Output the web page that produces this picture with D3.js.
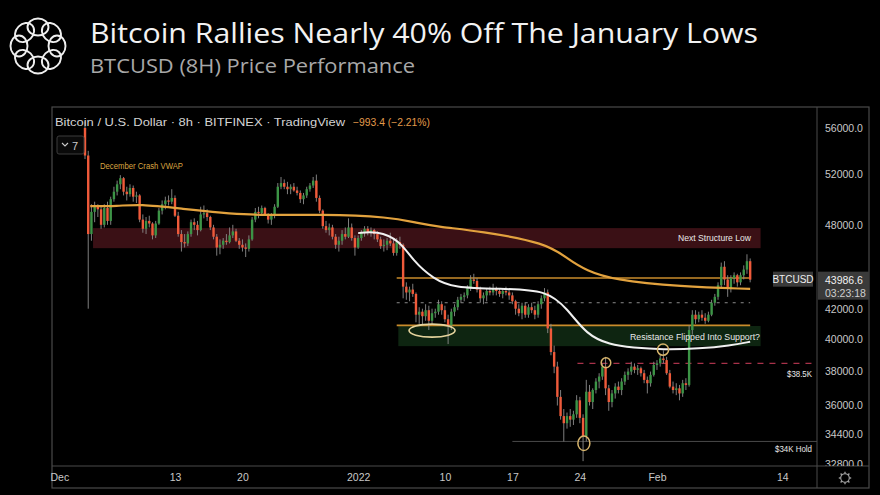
<!DOCTYPE html>
<html><head><meta charset="utf-8">
<script src="https://cdn.jsdelivr.net/npm/d3@7"></script>
<style>body{margin:0;background:#000;} svg{display:block}</style>
</head><body><svg id="c" width="880" height="495"></svg>
<script>
// ---------------- DATA ----------------
const candleStart = "2021-12-03T16:00:00Z";   // first 8h candle
const candleHours = 8;
const firstOpen = 56000;
const closes = [
53600,
47300,49000,49400, 49200,48000,49300, 48300,50000,50600, 51200,51700,50600,
50400,50900,50200, 50300,48400,47700, 48300,48100,47200, 48100,49100,49600,
49900,49800,50100, 48700,47300,46700, 46600,47300,48200, 48000,47600,48800,
48900,48600,47800, 47100,46300,46500, 46800,46700,47200, 47500,46800,46500,
46300,46200,46900, 48400,49000,48900, 49300,48800,48400, 48700,49400,51000,
51300,51000,50800, 51000,50700,50500, 50000,50300,50800, 51100,51500,50100,
49100,47900,47600, 47800,47100,46500, 46800,47300,47100, 47800,47000,46300,
47000,47400,47700, 47400,47600,47300, 46900,46400,46500, 46800,46600,45900,
46700,46500,43500, 43100,43300,43000, 41600,41800,41500, 41900,41200,41700,
41800,42300,41900, 41300,40900,41800, 42100,42600,42800, 42900,43400,44000,
43900,43300,42700, 42900,43200,43100, 43400,43200,43000, 43200,43100,42900,
42500,42000,41700, 42200,41600,42100, 41900,41600,42300, 42700,43100,40700,
39200,38300,36500, 35400,35000,35400, 35200,35500,36300, 35300,34300,36800,
36200,36900,37400, 37700,38300,37000, 36200,36700,37100, 36900,37400,37800,
38000,38300,38100, 38200,37900,37500, 37300,37800,38400,
38500,38800,38700, 37900,37100,36900, 37000,36700,37300, 37200,40600,41600,
41300,41600,41400, 41200,41600,42400, 42800,43600,44900, 44000,43400,44100,
44300,43800,44300, 44700,45300,43986.6
];
const highs = [
56600,
54000,49600,49800, 49600,49400,49600, 49800,50200,51000, 51500,51950,51800,
51000,51200,51100, 50600,50400,48800, 48600,48700,48200, 48300,49300,49900,
50200,50300,50800, 50300,49000,47600, 47300,47500,48400, 48500,48300,49400,
49500,49200,48700, 48000,47300,46900, 47000,47300,47800, 48000,47700,47000,
46900,46600,47200, 48600,49300,49400, 49500,49400,48900, 48900,49600,51300,
51800,51600,51400, 51200,51300,51000, 50700,50500,51000, 51300,51800,52000,
50300,49200,48300, 48100,48000,47300, 47100,47600,47800, 48500,48100,47200,
47200,47600,47900, 47900,47800,47700, 47500,47100,46900, 47000,47400,46900,
47000,47100,46600, 43800,43500,43700, 43100,42100,42000, 42300,42200,42000,
42000,42600,42500, 42200,41600,42000, 42300,42800,43000, 43100,43600,44300,
44400,44100,43500, 43100,43400,43500, 43700,43500,43400, 43400,43500,43400,
43100,42600,42300, 42400,42400,42300, 42400,42200,42500, 42900,43400,43300,
41000,39600,38600, 36900,35800,35600, 35800,35700,36600, 36500,35500,37500,
37200,37000,37600, 37900,38500,38900, 37200,36900,37300, 37400,37600,38000,
38200,38600,38500, 38400,38300,38100, 37700,38000,38600,
38700,39000,39300, 38900,38100,37400, 37300,37200,37500, 37600,40900,41900,
41900,41800,41900, 41700,41800,42600, 43000,43800,45200, 45300,44300,44300,
44500,44400,44500, 45000,45800,45500
];
const lows = [
53300,
42000,46800,48200, 48600,47700,47800, 48000,48000,49800, 50300,50800,50300,
49900,50200,49800, 49700,48200,47400, 47300,47800,46900, 47000,48000,48800,
49200,49500,49600, 48600,47100,46000, 46300,46400,47100, 47600,47200,47500,
48500,48300,47600, 46900,45700,45800, 46200,46500,46600, 47000,46700,46200,
46000,45600,46000, 46800,48200,48500, 48700,48700,48100, 48000,48500,49300,
50800,50800,50400, 50400,50600,50300, 49700,49600,50100, 50600,50900,49800,
48900,47700,47400, 47200,46900,46200, 46000,46500,46900, 47000,46800,45700,
46200,46800,47100, 47200,47100,46900, 46700,46200,46000, 46100,46400,45700,
45700,46200,42700, 42600,42500,42800, 41100,41000,40900, 41200,40600,41000,
41400,41600,41600, 41100,39700,40600, 41500,41900,42400, 42500,42700,43200,
43700,43100,42400, 42300,42500,42900, 42900,42900,42800, 42700,42900,42600,
42300,41600,41500, 41300,41400,41400, 41700,41300,41400, 42000,42500,40400,
39000,37900,36000, 35200,34000,34700, 34800,34900,35300, 35000,32950,34000,
36000,35800,36700, 37000,37500,36600, 35700,35900,36400, 36700,36600,37200,
37500,37800,37900, 37800,37700,37300, 36700,37100,37700,
38100,38300,38500, 37800,37000,36700, 36600,36300,36500, 36900,37100,40300,
41000,41100,41200, 41000,41100,41500, 42200,42600,43400, 43600,42800,43100,
43700,43500,43600, 44000,44400,43800
];

// December crash anchored VWAP (orange) and January anchored VWAP (white)
const vwapDecDates = ["2021-12-04T05:00","2021-12-07T00:00","2021-12-09T10:00","2021-12-13T05:00","2021-12-20T19:00","2021-12-28T10:00","2022-01-04T07:00","2022-01-07T02:00","2022-01-09T12:00","2022-01-13T14:00","2022-01-20T14:00","2022-01-22T17:00","2022-01-24T17:00","2022-01-27T10:00","2022-02-03T10:00","2022-02-10T16:00"];
const vwapDecValues = [49450,49450,49610,49290,48670,48830,48600,48140,47830,47530,46630,45470,44610,43980,43490,43350];
const vwapJanDates = ["2022-01-01T00:00","2022-01-02T22:00","2022-01-05T07:00","2022-01-06T17:00","2022-01-08T19:00","2022-01-10T22:00","2022-01-15T17:00","2022-01-20T14:00","2022-01-22T17:00","2022-01-24T17:00","2022-01-27T02:00","2022-01-29T12:00","2022-02-01T14:00","2022-02-05T10:00","2022-02-08T14:00","2022-02-10T16:00"];
const vwapJanValues = [47370,47530,46860,45320,44050,43420,43350,43280,41990,40290,39660,39470,39350,39410,39600,39850];

// zones & levels
const zoneStructure = {from:"2021-12-04T12:00", to:"2022-02-11T18:00", lo:46250, hi:47750, label:"Next Structure Low"};
const zoneSupport   = {from:"2022-01-05T04:00", to:"2022-02-11T18:00", lo:39570, hi:40860, label:"Resistance Flipped Into Support?"};
const orangeLevels = [44100, 40900];
const orangeLevelSpan = ["2022-01-05T00:00","2022-02-10T16:00"];
const grayDashLevel = 42400;
const grayDashSpan = ["2022-01-05T00:00","2022-02-10T16:00"];
const redDashLevel = 38500;
const redDashSpan = ["2022-01-23T18:00","2022-02-17T20:00"];
const holdLevel = 34000;
const holdSpan = ["2022-01-17T00:00","2022-02-17T20:00"];
const levelLabels = [{text:"$38.5K", price:37850}, {text:"$34K Hold", price:33600}];

// annotation marks
const markDates  = ["2022-01-24T10:00","2022-01-26T17:00","2022-02-01T15:00"];
const markPrices = [33900, 38540, 39350];
const markRx = [6, 4.8, 5.6], markRy = [7.2, 5, 5.6];
const ovalDate = "2022-01-08T16:00", ovalPrice = 40560;

// axes
const priceTicks = [56000,52000,48000,42000,40000,38000,36000,34400,32800];
const timeTickDates = ["2021-12-01","2021-12-13","2021-12-20","2022-01-01","2022-01-10","2022-01-17","2022-01-24","2022-02-01","2022-02-14"];
const timeTickLabels = ["Dec","13","20","2022","10","17","24","Feb","14"];
const lastPrice = 43986.6, lastLabel = "BTCUSD", countdown = "03:23:18";

// ---------------- DRAW ----------------
const svg = d3.select("#c");
const P = {left:52, right:817, top:107, bottom:466, outerR:869, outerB:488};
const F = "'Liberation Sans', Arial, sans-serif";
const pd = s => new Date(s.length<=10 ? s+"T00:00:00Z" : (s.endsWith("Z")?s:s+"Z"));

const x = d3.scaleUtc().domain([pd("2021-12-01"), pd("2022-02-14")]).range([59.3, 782.3]);
const y = d3.scaleLog().domain([32800, 56000]).range([464, 128]);

svg.append("rect").attr("width",880).attr("height",495).attr("fill","#000");

// logo: ring of overlapping loops
const logo = svg.append("g").attr("transform","translate(38,46)");
d3.range(8).forEach(k=>{
  logo.append("ellipse").attr("cx",0).attr("cy",-19).attr("rx",10.5).attr("ry",8.5)
    .attr("transform",`rotate(${k*45})`).attr("fill","none").attr("stroke","#eee").attr("stroke-width",1.9);
});

// titles
svg.append("text").attr("x",90).attr("y",43).attr("fill","#f2f2f2")
  .attr("font-family","'Open Sans', sans-serif").attr("font-size",28)
  .attr("textLength",668).attr("lengthAdjust","spacingAndGlyphs")
  .text("Bitcoin Rallies Nearly 40% Off The January Lows");
svg.append("text").attr("x",90).attr("y",73).attr("fill","#a8a8a8")
  .attr("font-family","'Open Sans', sans-serif").attr("font-size",20)
  .attr("textLength",325).attr("lengthAdjust","spacingAndGlyphs")
  .text("BTCUSD (8H) Price Performance");

// frame
svg.append("rect").attr("x",P.left).attr("y",P.top).attr("width",P.outerR-P.left).attr("height",P.outerB-P.top)
  .attr("fill","none").attr("stroke","#4a4a4a").attr("stroke-width",1.2);
svg.append("line").attr("x1",P.right).attr("x2",P.right).attr("y1",P.top).attr("y2",P.outerB).attr("stroke","#4a4a4a");
svg.append("line").attr("x1",P.left).attr("x2",P.outerR).attr("y1",P.bottom).attr("y2",P.bottom).attr("stroke","#4a4a4a");

svg.append("clipPath").attr("id","plot").append("rect")
  .attr("x",P.left+1).attr("y",P.top+1).attr("width",P.right-P.left-1).attr("height",P.bottom-P.top-1);
svg.append("clipPath").attr("id","yax").append("rect")
  .attr("x",P.right+1).attr("y",P.top+1).attr("width",P.outerR-P.right-1).attr("height",P.bottom-P.top-1);

const g = svg.append("g").attr("clip-path","url(#plot)");

// zones
[[zoneStructure,"#3a1015"],[zoneSupport,"#0e2511"]].forEach(([z,c])=>{
  g.append("rect").attr("x",x(pd(z.from))).attr("width",x(pd(z.to))-x(pd(z.from)))
   .attr("y",y(z.hi)).attr("height",y(z.lo)-y(z.hi)).attr("fill",c);
});

// levels
orangeLevels.forEach(v=>{
  g.append("line").attr("x1",x(pd(orangeLevelSpan[0]))).attr("x2",x(pd(orangeLevelSpan[1])))
   .attr("y1",y(v)).attr("y2",y(v)).attr("stroke","#c98b2b").attr("stroke-width",1.6);
});
g.append("line").attr("x1",x(pd(grayDashSpan[0]))).attr("x2",x(pd(grayDashSpan[1])))
 .attr("y1",y(grayDashLevel)).attr("y2",y(grayDashLevel)).attr("stroke","#8a8a8a").attr("stroke-width",1).attr("stroke-dasharray","3,5");
g.append("line").attr("x1",x(pd(redDashSpan[0]))).attr("x2",x(pd(redDashSpan[1])))
 .attr("y1",y(redDashLevel)).attr("y2",y(redDashLevel)).attr("stroke","#a8324a").attr("stroke-width",1.2).attr("stroke-dasharray","6,6");
g.append("line").attr("x1",x(pd(holdSpan[0]))).attr("x2",x(pd(holdSpan[1])))
 .attr("y1",y(holdLevel)).attr("y2",y(holdLevel)).attr("stroke","#4a4a4a").attr("stroke-width",1);

// candles
const t0 = pd(candleStart).getTime();
const candles = closes.map((c,i)=>{
  const o = i===0 ? firstOpen : closes[i-1];
  return {t:new Date(t0 + i*candleHours*3600e3), o, c, h:Math.max(highs[i],o,c), l:Math.min(lows[i],o,c)};
});
const RED="#ef5a3a", GREEN="#3c9446";
const cg = g.append("g");
cg.selectAll("line.w").data(candles).join("line")
  .attr("x1",d=>x(d.t)).attr("x2",d=>x(d.t)).attr("y1",d=>y(d.h)).attr("y2",d=>y(d.l))
  .attr("stroke","#8c8c8c").attr("stroke-width",0.9);
cg.selectAll("rect.b").data(candles).join("rect")
  .attr("x",d=>x(d.t)-1.2).attr("width",2.4)
  .attr("y",d=>y(Math.max(d.o,d.c))).attr("height",d=>Math.max(1,Math.abs(y(d.o)-y(d.c))))
  .attr("fill",d=>d.c>=d.o?GREEN:RED);

// VWAP lines
const line = d3.line().x(d=>x(d[0])).y(d=>y(d[1])).curve(d3.curveBasis);
g.append("path").datum(vwapDecDates.map((d,i)=>[pd(d),vwapDecValues[i]]))
  .attr("d",line).attr("fill","none").attr("stroke","#e2a23e").attr("stroke-width",2.2);
g.append("path").datum(vwapJanDates.map((d,i)=>[pd(d),vwapJanValues[i]]))
  .attr("d",line).attr("fill","none").attr("stroke","#f0f0f0").attr("stroke-width",2);

// annotations
g.append("ellipse").attr("cx",x(pd(ovalDate))).attr("cy",y(ovalPrice)).attr("rx",23).attr("ry",6.5)
  .attr("fill","none").attr("stroke","#e4d39c").attr("stroke-width",1.6);
markDates.forEach((d,i)=>{
  g.append("ellipse").attr("cx",x(pd(d))).attr("cy",y(markPrices[i])).attr("rx",markRx[i]).attr("ry",markRy[i])
   .attr("fill","none").attr("stroke","#d8b56c").attr("stroke-width",1.5);
});

// zone labels
const lab = (txt,xx,yy,len,col,anchor)=> svg.append("text").attr("x",xx).attr("y",yy).attr("fill",col||"#e8e8e8")
  .attr("font-family",F).attr("font-size",8.5).attr("text-anchor",anchor||"end").attr("dominant-baseline","central")
  .attr("textLength",len).attr("lengthAdjust","spacingAndGlyphs").text(txt);
lab(zoneStructure.label, 751, y((zoneStructure.hi+zoneStructure.lo)/2), 73);
lab(zoneSupport.label, 760, y((zoneSupport.hi+zoneSupport.lo)/2)+1, 130);
lab(levelLabels[0].text, 812, y(levelLabels[0].price), 25);
lab(levelLabels[1].text, 812, y(levelLabels[1].price), 37);
lab("December Crash VWAP", 100, 166, 83, "#d9a441", "start");

// legend header
svg.append("text").attr("x",55).attr("y",122).attr("fill","#d4d4d4").attr("font-family",F).attr("font-size",11)
  .attr("dominant-baseline","central").attr("textLength",290).attr("lengthAdjust","spacingAndGlyphs")
  .text("Bitcoin / U.S. Dollar · 8h · BITFINEX · TradingView");
svg.append("text").attr("x",353).attr("y",122).attr("fill","#e39b4b").attr("font-family",F).attr("font-size",10)
  .attr("dominant-baseline","central").attr("textLength",77).attr("lengthAdjust","spacingAndGlyphs")
  .text("−993.4 (−2.21%)");
svg.append("rect").attr("x",57).attr("y",136).attr("width",27).attr("height",18).attr("rx",2)
  .attr("fill","#0a0a0a").attr("stroke","#3c3c3c");
svg.append("path").attr("d","M62,143 l3,3 l3,-3").attr("fill","none").attr("stroke","#ccc").attr("stroke-width",1.1);
svg.append("text").attr("x",72).attr("y",145.5).attr("fill","#ccc").attr("font-family",F).attr("font-size",11)
  .attr("dominant-baseline","central").text("7");

// price axis
const yAxis = d3.axisRight(y).tickValues(priceTicks).tickFormat(d3.format(".1f")).tickSize(0).tickPadding(8);
const ya = svg.append("g").attr("clip-path","url(#yax)").append("g").attr("transform",`translate(${P.right},0)`).call(yAxis);
ya.select(".domain").remove();
ya.selectAll("text").attr("fill","#c8c8c8").attr("font-family",F).attr("font-size",10.5);

// time axis
const xAxis = d3.axisBottom(x).tickValues(timeTickDates.map(pd)).tickFormat((d,i)=>timeTickLabels[i]).tickSize(0).tickPadding(8);
const xa = svg.append("g").attr("transform",`translate(0,${P.bottom})`).call(xAxis);
xa.select(".domain").remove();
xa.selectAll("text").attr("fill","#c8c8c8").attr("font-family",F).attr("font-size",10.5);

// last price labels
const ly = y(lastPrice);
svg.append("rect").attr("x",773).attr("y",ly-8).attr("width",40).attr("height",15).attr("fill","#3a3a3a");
svg.append("text").attr("x",793).attr("y",ly).attr("fill","#eee").attr("font-family",F).attr("font-size",10)
  .attr("text-anchor","middle").attr("dominant-baseline","central").text(lastLabel);
svg.append("rect").attr("x",P.right+1).attr("y",ly-8).attr("width",P.outerR-P.right-1).attr("height",28).attr("fill","#3a3a3a");
svg.append("text").attr("x",825).attr("y",ly).attr("fill","#f0f0f0").attr("font-family",F).attr("font-size",10.5)
  .attr("dominant-baseline","central").text(d3.format(".1f")(lastPrice));
svg.append("text").attr("x",825).attr("y",ly+13).attr("fill","#cfcfcf").attr("font-family",F).attr("font-size",10.5)
  .attr("dominant-baseline","central").text(countdown);

// gear icon
const gear = svg.append("g").attr("transform","translate(845,478)").attr("stroke","#a0a0a0").attr("fill","none");
gear.append("circle").attr("r",4.3).attr("stroke-width",1.1);
d3.range(8).forEach(k=>{
  const a=k*Math.PI/4;
  gear.append("line").attr("x1",4.3*Math.cos(a)).attr("y1",4.3*Math.sin(a)).attr("x2",6.2*Math.cos(a)).attr("y2",6.2*Math.sin(a)).attr("stroke-width",1.4);
});
</script></body></html>
